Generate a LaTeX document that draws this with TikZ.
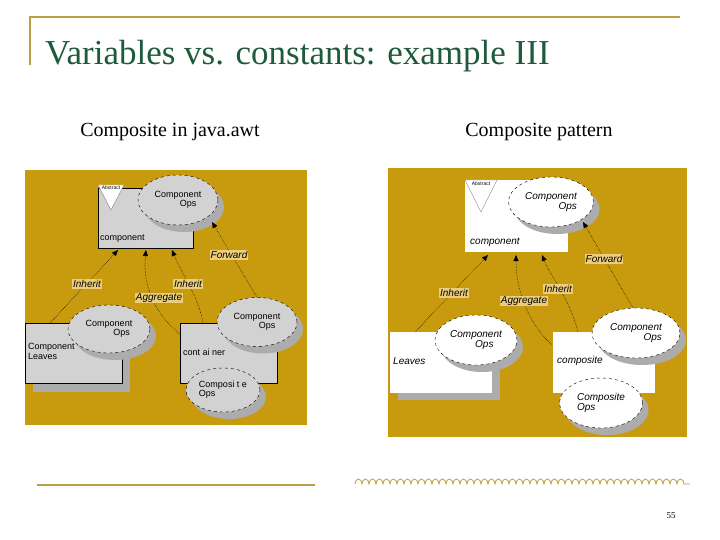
\documentclass[tikz,border=0pt]{standalone}
\usepackage{fontspec}
\setmainfont{Liberation Serif}
\setsansfont{Liberation Sans}
\usetikzlibrary{shapes.geometric,shadows,arrows.meta,decorations.pathmorphing}
\definecolor{gold}{RGB}{200,155,15}
\definecolor{lab}{RGB}{235,205,125}
\definecolor{ttl}{RGB}{30,90,60}
\definecolor{rule}{RGB}{185,160,70}
\begin{document}
\begin{tikzpicture}[x=1pt,y=-1pt,
  box/.style={draw=none,minimum width=#1,anchor=north west,inner sep=0},
  grbox/.style={fill=gray!35,draw=black,line width=0.3pt},
  whbox/.style={fill=white,draw=none},
  ell/.style={ellipse,draw=black,dashed,line width=0.4pt,inner sep=0,font=\sffamily\fontsize{9}{9}\selectfont,align=right,drop shadow={shadow xshift=6pt,shadow yshift=-7pt,fill=gray!65,opacity=1}},
  lbl/.style={fill=lab,inner sep=1pt,font=\sffamily\itshape\fontsize{10}{10}\selectfont},
  txt/.style={font=\sffamily\fontsize{9}{10}\selectfont,anchor=west,inner sep=0,align=left},
  arr/.style={densely dotted,line width=0.5pt,-{Triangle[length=6pt,width=5pt]}},
  tri/.style={fill=white,draw=gray}]
\useasboundingbox (0,0) rectangle (720,540);
% header
\draw[rule,line width=1.5pt] (30,65) -- (30,17) -- (680,17);
\node[anchor=base west,inner sep=0,text=ttl,font=\fontsize{35}{35}\selectfont] (title) at (45,65) {Variables vs. constants: example III};
\node[anchor=base,inner sep=0,font=\fontsize{20}{20}\selectfont] (s1) at (170,137) {Composite in java.awt};
\node[anchor=base,inner sep=0,font=\fontsize{20}{20}\selectfont] (s2) at (539,137) {Composite pattern};
% ---------- left panel
\fill[gold] (25,170) rectangle (307,425);
\fill[gray!65] (33,331) rectangle (130,392);
\filldraw[grbox] (98,188) rectangle (193,248);
\filldraw[tri] (98,185) -- (124,185) -- (111,210) -- cycle;
\node[font=\sffamily\fontsize{5}{5}\selectfont,inner sep=0] (abs1) at (111,188) {Abstract};
\node[txt] (c1) at (100,239) {component};
\node[ell,fill=gray!35,minimum width=80pt,minimum height=50pt] (e1) at (178,200) {Component\\Ops\ \ \ };
\filldraw[grbox] (25,323) rectangle (122,383);
\node[ell,fill=gray!35,minimum width=82pt,minimum height=48pt] (e2) at (109,329) {Component\\Ops\ \ };
\node[txt] (lv1) at (28,351) {Component\\Leaves};
\coordinate (lt1) at (50,323);
\filldraw[grbox] (180,323) rectangle (277,383);
\node[txt] (ct1) at (183,352) {cont ai ner};
\node[ell,fill=gray!35,minimum width=80pt,minimum height=49pt] (e3) at (257,322) {Component\\Ops\ \ \ };
\node[ell,fill=gray!35,minimum width=74pt,minimum height=44pt,align=left] (e4) at (223,390) {Composi t e\\Ops\ \ \ \ \ \ \ \ \ };
\coordinate (ct1l) at (181,335);
\coordinate (ct1t) at (203,323);
\coordinate (a1) at (118,250);
\coordinate (a2) at (146,250);
\coordinate (a3) at (172,250);
\draw[arr] (lt1) -- (a1);
\draw[arr] (ct1l) .. controls (150,310) and (143,280) .. (a2);
\draw[arr] (ct1t) .. controls (200,300) and (180,270) .. (a3);
\draw[arr] (e3.north) -- (212,222);
\node[lbl] (li1) at (87,284) {Inherit};
\node[lbl] (la1) at (159,298) {Aggregate};
\node[lbl] (li2) at (188,284) {Inherit};
\node[lbl] (lf1) at (229,255) {Forward};
% ---------- right panel
\fill[gold] (388,168) rectangle (687,437);
\fill[gray!65] (398,340) rectangle (500,400);
\fill[whbox] (465,180) rectangle (568,252);
\filldraw[tri] (465,180) -- (497,180) -- (481,212) -- cycle;
\node[font=\sffamily\fontsize{5}{5}\selectfont,inner sep=0] (abs2) at (481,184) {Abstract};
\node[txt,font=\sffamily\itshape\fontsize{10}{10}\selectfont] (c2) at (470,242) {component};
\node[ell,fill=white,minimum width=85pt,minimum height=50pt,font=\sffamily\itshape\fontsize{10}{10}\selectfont] (e5) at (551,202) {Component\\Ops};
\fill[whbox] (390,332) rectangle (492,393);
\node[ell,fill=white,minimum width=82pt,minimum height=50pt,font=\sffamily\itshape\fontsize{10}{10}\selectfont] (e6) at (476,340) {Component\\Ops\ \ \ \ };
\node[txt,font=\sffamily\itshape\fontsize{10}{10}\selectfont] (lv2) at (393,361) {Leaves};
\coordinate (lt2) at (415,332);
\fill[whbox] (553,332) rectangle (655,393);
\node[txt,font=\sffamily\itshape\fontsize{10}{10}\selectfont] (cp2) at (557,361) {composite};
\node[ell,fill=white,minimum width=88pt,minimum height=50pt,font=\sffamily\itshape\fontsize{10}{10}\selectfont] (e7) at (636,333) {Component\\Ops};
\node[ell,fill=white,minimum width=83pt,minimum height=50pt,align=left,font=\sffamily\itshape\fontsize{10}{10}\selectfont] (e8) at (601,403) {Composite\\Ops};
\coordinate (cp2l) at (552,345);
\coordinate (cp2t) at (578,332);
\coordinate (b1) at (488,255);
\coordinate (b2) at (516,255);
\coordinate (b3) at (542,255);
\draw[arr] (lt2) -- (b1);
\draw[arr] (cp2l) .. controls (525,320) and (516,285) .. (b2);
\draw[arr] (cp2t) .. controls (570,300) and (550,275) .. (b3);
\draw[arr] (633,308) -- (583,222);
\node[lbl] (li3) at (454,293) {Inherit};
\node[lbl] (la2) at (524,301) {Aggregate};
\node[lbl] (li4) at (558,289) {Inherit};
\node[lbl] (lf2) at (604,259) {Forward};
% footer
\draw[rule,line width=2pt] (37,485) -- (315,485);
\draw[rule,line width=0.8pt,decorate,decoration={bumps,segment length=14pt,amplitude=5pt}] (355,484) -- (690,484);
\node[font=\fontsize{9}{9}\selectfont,inner sep=0] (pg) at (671,516) {55};
\end{tikzpicture}
\end{document}
